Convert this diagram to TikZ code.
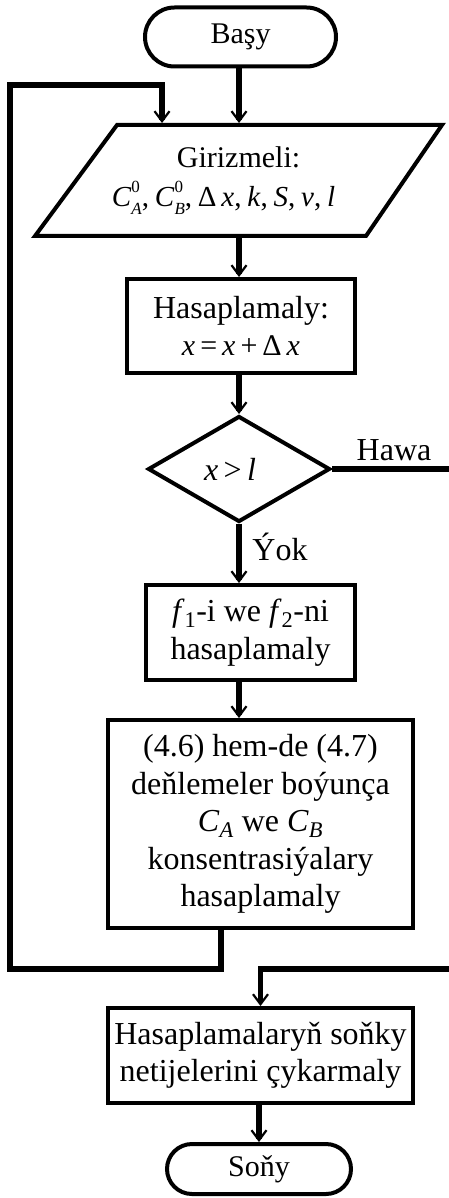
\documentclass[tikz,border=0pt]{standalone}
\usepackage{fontspec}
\setmainfont{Liberation Serif}
\usetikzlibrary{shapes.geometric,shapes.misc,arrows.meta}
\newcommand\Cz[1]{\textit{C}\makebox[0pt][l]{\raisebox{0.45em}{\fontsize{17}{17}\selectfont 0}}\raisebox{-0.3em}{\fontsize{17}{17}\selectfont\textit{#1}}}
\newcommand\cs{,\hspace{0.2em}}
\begin{document}
\begin{tikzpicture}[x=1pt,y=-1pt,
  every node/.style={font=\fontsize{32}{37.5}\selectfont, inner sep=0pt, align=center},
  shp/.style={draw, line width=4pt},
  boxnode/.style={shp, rectangle},
  term/.style={shp, rounded rectangle},
  conn/.style={line width=5.5pt},
  arr/.style={conn, -{Straight Barb[length=10pt,width=15pt,line width=2.2pt]}}]
\useasboundingbox (0,0) rectangle (449,1198);
\clip (0,0) rectangle (449,1198);

\node[term, minimum width=191pt, minimum height=59pt, font=\fontsize{30}{36}\selectfont] (start) at (240.5,37) {Başy};
% input parallelogram: text node spanning the band between top and bottom edges
\node[rectangle, outer sep=0pt, minimum width=250pt, minimum height=115pt, font=\fontsize{30}{37}\selectfont] (inp) at (238.5,180.5)
      {Girizmeli:\\[2pt]\hspace*{-30pt}{\fontsize{29}{34}\selectfont\Cz{A}\cs\Cz{B}\cs Δ\,\textit{x}\cs\textit{k}\cs\textit{S}\cs\textit{v}\cs\textit{l}}};
\draw[shp] (117,125) -- (442,125) -- (366,236) -- (35,236) -- cycle;
\node[boxnode, minimum width=228pt, minimum height=94pt] (calc) at (241,326)
      {Hasaplamaly:\\{\fontsize{30}{34}\selectfont\textit{x}\,=\,\textit{x}\,+\,Δ\,\textit{x}}};
\node[shp, diamond, minimum width=182pt, minimum height=106pt] (dec) at (239,469)
      {\hspace*{-18pt}\textit{x}\,>\,\textit{l}};
\node[boxnode, minimum width=209pt, minimum height=95pt] (f) at (250.5,632.5)
      {\textit{f}\textsubscript{1}-i we \textit{f}\textsubscript{2}-ni\\hasaplamaly};
\node[boxnode, minimum width=305pt, minimum height=208pt] (big) at (260.5,824)
      {(4.6) hem-de (4.7)\\deňlemeler boýunça\\\textit{C}\textsubscript{\textit{A}} we \textit{C}\textsubscript{\textit{B}}\\konsentrasiýalary\\hasaplamaly};
\node[boxnode, minimum width=305pt, minimum height=95pt] (final) at (260.5,1055.5)
      {Hasaplamalaryň soňky\\netijelerini çykarmaly};
\node[term, minimum width=184pt, minimum height=50pt, font=\fontsize{30}{36}\selectfont] (end) at (259,1169) {Soňy};

\node (hawa) at (394,450) {Hawa};
\node (yok) at (280,547) {Ýok};

\coordinate (rc) at (460,469);
\coordinate (rd) at (460,969);
\coordinate (lb) at (221,969);
\coordinate (ll) at (10,969);
\coordinate (lt) at (10,85);
\coordinate (lr) at (162,85);

\draw[arr] (start.south -| dec.north) -- (inp.north -| dec.north);
\draw[arr] (inp.south -| dec.north) -- (calc.north -| dec.north);
\draw[arr] (calc.south -| dec.north) -- (dec.north);
\draw[arr] (dec.south) -- (dec.south |- f.north);
\draw[arr] (f.south -| dec.south) -- (big.north -| dec.south);
\draw[arr] (lb |- big.south) -- (lb) -- (ll) -- (lt) -- (lr) -- (lr |- inp.north);
\draw[arr] (dec.east) -- (rc) -- (rd) -- (rd -| final.north) -- (final.north);
\draw[arr] (final.south -| end.north) -- (end.north);
\end{tikzpicture}
\end{document}
